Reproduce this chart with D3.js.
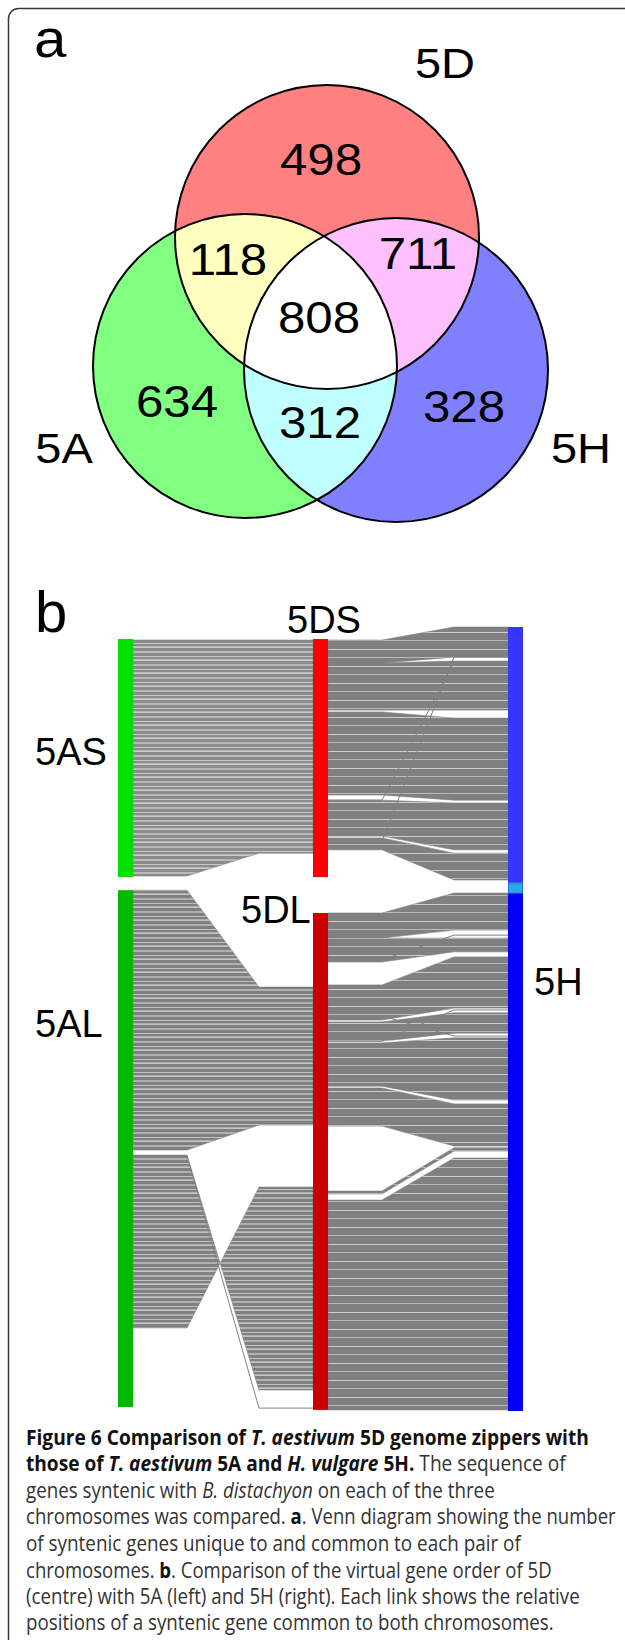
<!DOCTYPE html>
<html>
<head>
<meta charset="utf-8">
<script src="https://cdn.jsdelivr.net/npm/d3@7"></script>
<style>
	body { margin: 0; background: #fff; }
	svg { display: block; }
	.lbl { font-family: 'Liberation Sans', Arial, sans-serif; fill: #000; }
	.cap { font-family: 'Open Sans', sans-serif; font-size: 21px; fill: #333; }
	.cap .b { font-weight: 700; fill: #111; }
	.cap .i { font-style: italic; }
</style>
</head>
<body>
<div id="fig"></div>
<script>
// panel a: Venn counts
const vennSets = ['5A', '5D', '5H'];
const regionKeys = ['D', 'AD', 'DH', 'ADH', 'A', 'AH', 'H'];
const regionCounts = [498, 118, 711, 808, 634, 312, 328];

// panel b: chromosome arms, in virtual gene order units
const armNames = ['5AS', '5AL', '5DS', '5DL', '5HS', '5HL'];
const armChrom = ['5A', '5A', '5D', '5D', '5H', '5H'];
const armStart = [33, 725, 33, 788, 0, 733];
const armEnd = [689, 2149, 689, 2157, 705, 2160];
const centromere5H = [705, 733];

// syntenic blocks: [left start, left end, right start, right end]
const blocksAD = [
	[36, 686, 36, 623],
	[725, 1441, 992, 1372],
	[1455, 1931, 2102, 1543]
];
const densityAD = [0.72, 0.86, 0.86];

const blocksDH = [
	[36, 99, 0, 83],
	[99, 229, 94, 229],
	[234, 463, 251, 477],
	[477, 576, 485, 614],
	[581, 614, 623, 697],
	[788, 857, 733, 835],
	[857, 923, 857, 895],
	[986, 1083, 909, 1050],
	[1088, 1141, 1063, 1119],
	[1146, 1265, 1132, 1303],
	[1270, 1375, 1314, 1430],
	[1554, 1562, 1435, 1444],
	[1579, 2157, 1463, 2157]
];
const densityDH = [0.95, 0.95, 0.95, 0.95, 0.95, 0.95, 0.95, 0.97, 0.97, 0.97, 0.97, 1, 0.93];

// single links out of order: [left position, right position]
const linksAD = [[1457, 2152]];
const linksDH = [[590, 83], [477, 96], [1141, 1055], [1072, 1127], [917, 849]];

// caption
const captionLines = [
	[['Figure 6 Comparison of ', 'b'], ['T. aestivum', 'bi'], [' 5D genome zippers with', 'b']],
	[['those of ', 'b'], ['T. aestivum', 'bi'], [' 5A and ', 'b'], ['H. vulgare', 'bi'], [' 5H.', 'b'], [' The sequence of', '']],
	[['genes syntenic with ', ''], ['B. distachyon', 'i'], [' on each of the three', '']],
	[['chromosomes was compared. ', ''], ['a', 'b'], ['. Venn diagram showing the number', '']],
	[['of syntenic genes unique to and common to each pair of', '']],
	[['chromosomes. ', ''], ['b', 'b'], ['. Comparison of the virtual gene order of 5D', '']],
	[['(centre) with 5A (left) and 5H (right). Each link shows the relative', '']],
	[['positions of a syntenic gene common to both chromosomes.', '']]
];

document.addEventListener('DOMContentLoaded', () => {
	let W = 625, H = 1640;

	let svg = d3.select('#fig')
		.append('svg')
			.attr('width', W)
			.attr('height', H);

	svg.append('rect')
		.attr('x', 8.5).attr('y', 8.5)
		.attr('width', 700).attr('height', 1700)
		.attr('rx', 10)
		.attr('fill', 'none')
		.attr('stroke', '#3a3a3a')
		.attr('stroke-width', 1.5);

	// ---- panel a ----
	let centre = { '5A': [245, 366], '5D': [327, 237], '5H': [396, 370] };
	let radius = 152;
	let setFill = { '5A': '#80ff80', '5D': '#ff8080', '5H': '#8080ff' };
	let labelPos = {
		D: [321, 175], AD: [228, 275], DH: [418, 269], ADH: [319, 333],
		A: [177, 417], AH: [320, 438], H: [464, 422]
	};
	let setLabelPos = { '5A': [64, 463], '5D': [445, 78], '5H': [581, 463] };

	let defs = svg.append('defs');
	vennSets.forEach((s) => {
		defs.append('clipPath')
			.attr('id', 'clip' + s)
			.append('circle')
				.attr('cx', centre[s][0])
				.attr('cy', centre[s][1])
				.attr('r', radius);
	});

	// fine horizontal striping seen in the dense link bundles
	[['stripesDense', 13, [[1.5, 1], [6, 0.7], [9.5, 1.2]]],
	 ['stripesLight', 17, [[3, 0.8], [11, 0.6]]]]
		.forEach(([id, h, lines]) => {
			let p = defs.append('pattern')
				.attr('id', id)
				.attr('patternUnits', 'userSpaceOnUse')
				.attr('width', 20)
				.attr('height', h);
			p.append('rect')
				.attr('width', 20).attr('height', h)
				.attr('fill', '#808080');
			lines.forEach(([y0, t]) => {
				p.append('rect')
					.attr('y', y0).attr('width', 20).attr('height', t)
					.attr('fill', '#ffffff').attr('fill-opacity', 0.75);
			});
		});

	let venn = svg.append('g').attr('class', 'venn');

	function disc(g, s, fill) {
		g.append('circle')
			.attr('cx', centre[s][0])
			.attr('cy', centre[s][1])
			.attr('r', radius)
			.attr('fill', fill);
	}

	vennSets.forEach((s) => disc(venn, s, setFill[s]));
	disc(venn.append('g').attr('clip-path', 'url(#clip5D)'), '5A', '#ffffc0');
	disc(venn.append('g').attr('clip-path', 'url(#clip5D)'), '5H', '#ffc0ff');
	disc(venn.append('g').attr('clip-path', 'url(#clip5H)'), '5A', '#c0ffff');
	disc(venn.append('g').attr('clip-path', 'url(#clip5D)')
		.append('g').attr('clip-path', 'url(#clip5H)'), '5A', '#ffffff');

	venn.selectAll('circle.outline')
		.data(vennSets)
		.enter().append('circle')
			.attr('class', 'outline')
			.attr('cx', (s) => centre[s][0])
			.attr('cy', (s) => centre[s][1])
			.attr('r', radius)
			.attr('fill', 'none')
			.attr('stroke', '#000')
			.attr('stroke-width', 2);

	venn.selectAll('text.count')
		.data(regionKeys)
		.enter().append('text')
			.attr('class', 'lbl count')
			.attr('transform', (k) => 'translate(' + labelPos[k][0] + ',' + labelPos[k][1] + ') scale(1.12,1)')
			.attr('text-anchor', 'middle')
			.style('font-size', '44px')
			.text((k, i) => regionCounts[i]);

	venn.selectAll('text.set')
		.data(vennSets)
		.enter().append('text')
			.attr('class', 'lbl set')
			.attr('transform', (s) => 'translate(' + setLabelPos[s][0] + ',' + setLabelPos[s][1] + ') scale(1.12,1)')
			.attr('text-anchor', 'middle')
			.style('font-size', '42px')
			.text((s) => s);

	svg.append('text')
		.attr('class', 'lbl')
		.attr('transform', 'translate(34,57) scale(1.12,1)')
		.style('font-size', '52px')
		.text('a');

	// ---- panel b ----
	let x = d3.scalePoint().domain(vennSets).range([118, 508]);
	let y = d3.scaleLinear().domain([0, 2160]).range([627, 1411]);
	let barW = 15;
	let knee = 54;

	let armColor = {
		'5AS': '#00e000', '5AL': '#00b900',
		'5DS': '#ff0000', '5DL': '#cc0000',
		'5HS': '#3636ff', '5HL': '#0000ff'
	};

	function band(b, xl, xr) {
		let pts = [
			[xl, y(b[0])], [xl + knee, y(b[0])], [xr - knee, y(b[2])], [xr, y(b[2])],
			[xr, y(b[3])], [xr - knee, y(b[3])], [xl + knee, y(b[1])], [xl, y(b[1])]
		];
		return d3.line()(pts) + 'Z';
	}

	function link(l, xl, xr) {
		return d3.line()([
			[xl, y(l[0])], [xl + knee, y(l[0])], [xr - knee, y(l[1])], [xr, y(l[1])]
		]);
	}

	let links = svg.append('g').attr('class', 'links');

	[[blocksAD, densityAD, linksAD, '5A', '5D'], [blocksDH, densityDH, linksDH, '5D', '5H']]
		.forEach(([blocks, density, singles, left, right]) => {
			let xl = x(left) + barW;
			let xr = x(right);
			links.append('g').selectAll('path')
				.data(blocks)
				.enter().append('path')
					.attr('d', (b) => band(b, xl, xr))
					.attr('fill', (b, i) => density[i] < 0.9 ? 'url(#stripesDense)' : 'url(#stripesLight)')
					.attr('fill-opacity', (b, i) => density[i] < 0.8 ? 0.9 : 1)
					.attr('stroke', '#808080')
					.attr('stroke-width', 0.6);
			links.append('g').selectAll('path')
				.data(singles)
				.enter().append('path')
					.attr('d', (l) => link(l, xl, xr))
					.attr('fill', 'none')
					.attr('stroke', '#808080')
					.attr('stroke-width', 1);
		});

	svg.append('g').selectAll('rect')
		.data(armNames)
		.enter().append('rect')
			.attr('x', (a, i) => x(armChrom[i]))
			.attr('y', (a, i) => y(armStart[i]))
			.attr('width', barW)
			.attr('height', (a, i) => y(armEnd[i]) - y(armStart[i]))
			.attr('fill', (a) => armColor[a]);

	svg.append('rect')
		.attr('x', x('5H') + 0.5)
		.attr('y', y(centromere5H[0]))
		.attr('width', barW - 1)
		.attr('height', y(centromere5H[1]) - y(centromere5H[0]))
		.attr('fill', '#2aa8e8')
		.attr('stroke', '#2a6ee0')
		.attr('stroke-width', 1);

	let armLabels = [['b', 35, 632, 58], ['5DS', 287, 633, 38], ['5AS', 35, 765, 38],
		['5DL', 241, 923, 38], ['5AL', 35, 1037, 38], ['5H', 534, 995, 38]];
	svg.append('g').selectAll('text')
		.data(armLabels)
		.enter().append('text')
			.attr('class', 'lbl')
			.attr('x', (d) => d[1])
			.attr('y', (d) => d[2])
			.style('font-size', (d) => d[3] + 'px')
			.text((d) => d[0]);

	// ---- caption ----
	let capX = 26;
	let capBase = [1445, 1471, 1498, 1524, 1551, 1578, 1604, 1630];
	let capWidth = [563, 540, 469, 590, 495, 526, 554, 528];

	captionLines.forEach((line, i) => {
		let t = svg.append('text').attr('class', 'cap');
		line.forEach(([str, st]) => {
			t.append('tspan')
				.attr('class', (st.includes('b') ? 'b ' : '') + (st.includes('i') ? 'i' : ''))
				.text(str);
		});
		let w = t.node().getComputedTextLength();
		t.attr('transform', 'translate(' + capX + ',' + capBase[i] + ') scale(' + (capWidth[i] / w) + ',1)');
	});
});
</script>
</body>
</html>
